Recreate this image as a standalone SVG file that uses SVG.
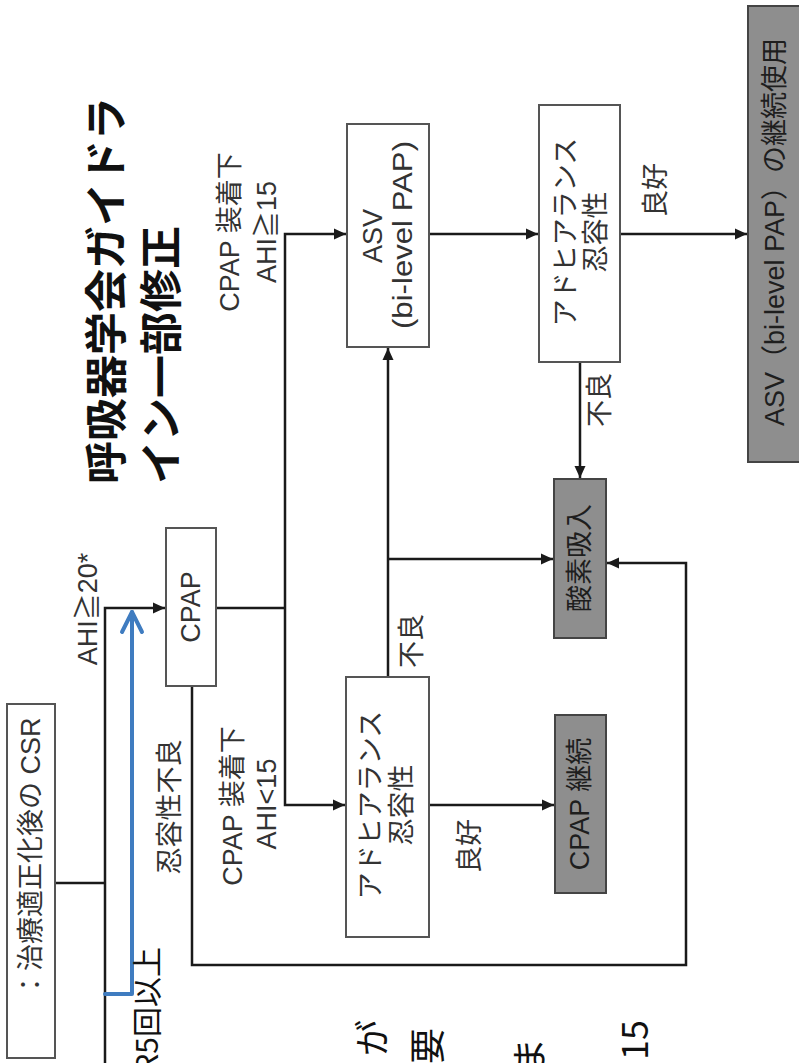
<svg xmlns="http://www.w3.org/2000/svg" width="799" height="1063" viewBox="0 0 799 1063">
<style>
.box{fill:#fff;stroke:#555;stroke-width:2}
.gbox{fill:#8e8e8e;stroke:#444;stroke-width:2}
.t{font-family:"Liberation Sans","Noto Sans CJK JP",sans-serif;font-size:27px;fill:#333;text-anchor:middle;dominant-baseline:central}
.tg{fill:#1e1e1e}
.title{font-family:"Noto Sans CJK JP",sans-serif;font-size:43px;font-weight:bold;fill:#111;dominant-baseline:central}
.note{font-family:"Noto Sans CJK JP",sans-serif;fill:#111;dominant-baseline:central}
.ln{fill:none;stroke:#1a1a1a;stroke-width:2.5}
.blue{fill:none;stroke:#3f7cc0;stroke-width:4;stroke-linecap:round;stroke-linejoin:round}
</style>
<defs>
<marker id="ah" markerUnits="userSpaceOnUse" markerWidth="14" markerHeight="12" refX="12" refY="6" orient="auto">
<path d="M0,0.5 L12,6 L0,11.5 Z" fill="#1a1a1a"/>
</marker>
</defs>

<g id="title">
<text class="title" transform="translate(103,484) rotate(-90)">呼吸器学会ガイドラ</text>
<text class="title" transform="translate(158,484) rotate(-90)">イン一部修正</text>
</g>

<g id="connectors">
<path class="ln" d="M55,883 H105"/>
<path class="ln" d="M105,1063 V608 H165" marker-end="url(#ah)"/>
<path class="ln" d="M216,608 H285"/>
<path class="ln" d="M285,608 V234 H346" marker-end="url(#ah)"/>
<path class="ln" d="M285,608 V805 H345" marker-end="url(#ah)"/>
<path class="ln" d="M429,234 H538" marker-end="url(#ah)"/>
<path class="ln" d="M580,362 V478" marker-end="url(#ah)"/>
<path class="ln" d="M620,234 H747" marker-end="url(#ah)"/>
<path class="ln" d="M388,677 V348" marker-end="url(#ah)"/>
<path class="ln" d="M388,559 H553" marker-end="url(#ah)"/>
<path class="ln" d="M429,805 H554" marker-end="url(#ah)"/>
<path class="ln" d="M192,686 V965 H686 V563 H607" marker-end="url(#ah)"/>
</g>

<g id="blue-annotation">
<path class="blue" d="M105,994 H132 V612"/>
<path class="blue" d="M122,632 L132,612 L142,632"/>
<text class="note" font-size="30" text-anchor="end" transform="translate(145,947) rotate(-90)">R5回以上</text>
</g>

<g id="node-csr">
<rect class="box" x="7" y="704" width="48" height="354"/>
<text class="t" font-size="25" style="text-anchor:start" transform="translate(31,998) rotate(-90)">：治療適正化後の CSR</text>
</g>

<g id="node-cpap">
<rect class="box" x="166" y="528" width="50" height="158"/>
<text class="t" transform="translate(191,607) rotate(-90)">CPAP</text>
</g>

<g id="node-adh1">
<rect class="box" x="346" y="677" width="83" height="260"/>
<text class="t" font-size="26" transform="translate(371,805) rotate(-90)">アドヒアランス</text>
<text class="t" font-size="26" transform="translate(402,805) rotate(-90)">忍容性</text>
</g>

<g id="node-asv">
<rect class="box" x="347" y="124" width="82" height="223"/>
<text class="t" font-size="28" transform="translate(373,236) rotate(-90)">ASV</text>
<text class="t" font-size="28" textLength="188" lengthAdjust="spacingAndGlyphs" transform="translate(403,235) rotate(-90)">(bi-level PAP)</text>
</g>

<g id="node-adh2">
<rect class="box" x="539" y="105" width="81" height="257"/>
<text class="t" font-size="26" transform="translate(566,232) rotate(-90)">アドヒアランス</text>
<text class="t" font-size="26" transform="translate(596,232) rotate(-90)">忍容性</text>
</g>

<g id="node-o2">
<rect class="gbox" x="554" y="479" width="52" height="159"/>
<text class="t tg" transform="translate(580,558) rotate(-90)">酸素吸入</text>
</g>

<g id="node-cpap-cont">
<rect class="gbox" x="555" y="715" width="51" height="178"/>
<text class="t tg" font-size="26" transform="translate(580,804) rotate(-90)">CPAP 継続</text>
</g>

<g id="node-asv-cont">
<rect class="gbox" x="748" y="6" width="52" height="456"/>
<text class="t tg" font-size="28" transform="translate(775,232) rotate(-90)">ASV（bi-level PAP）の継続使用</text>
</g>

<g id="labels">
<text class="t" font-size="28" transform="translate(88,609) rotate(-90)">AHI≧20*</text>
<text class="t" transform="translate(230,232) rotate(-90)">CPAP 装着下</text>
<text class="t" transform="translate(267,232) rotate(-90)">AHI≧15</text>
<text class="t" transform="translate(233,806) rotate(-90)">CPAP 装着下</text>
<text class="t" transform="translate(267,804) rotate(-90)">AHI&lt;15</text>
<text class="t" transform="translate(170,807) rotate(-90)">忍容性不良</text>
<text class="t" transform="translate(412,641) rotate(-90)">不良</text>
<text class="t" transform="translate(600,400) rotate(-90)">不良</text>
<text class="t" transform="translate(470,846) rotate(-90)">良好</text>
<text class="t" transform="translate(656,190) rotate(-90)">良好</text>
</g>

<g id="cut-text">
<text class="note" font-size="36" text-anchor="end" transform="translate(370,1020) rotate(-90)">が</text>
<text class="note" font-size="36" text-anchor="end" transform="translate(425,1028) rotate(-90)">要</text>
<text class="note" font-size="36" text-anchor="end" transform="translate(527,1038) rotate(-90)">ま</text>
<text class="note" font-size="36" text-anchor="end" transform="translate(632,1020) rotate(-90)">15</text>
</g>
</svg>
